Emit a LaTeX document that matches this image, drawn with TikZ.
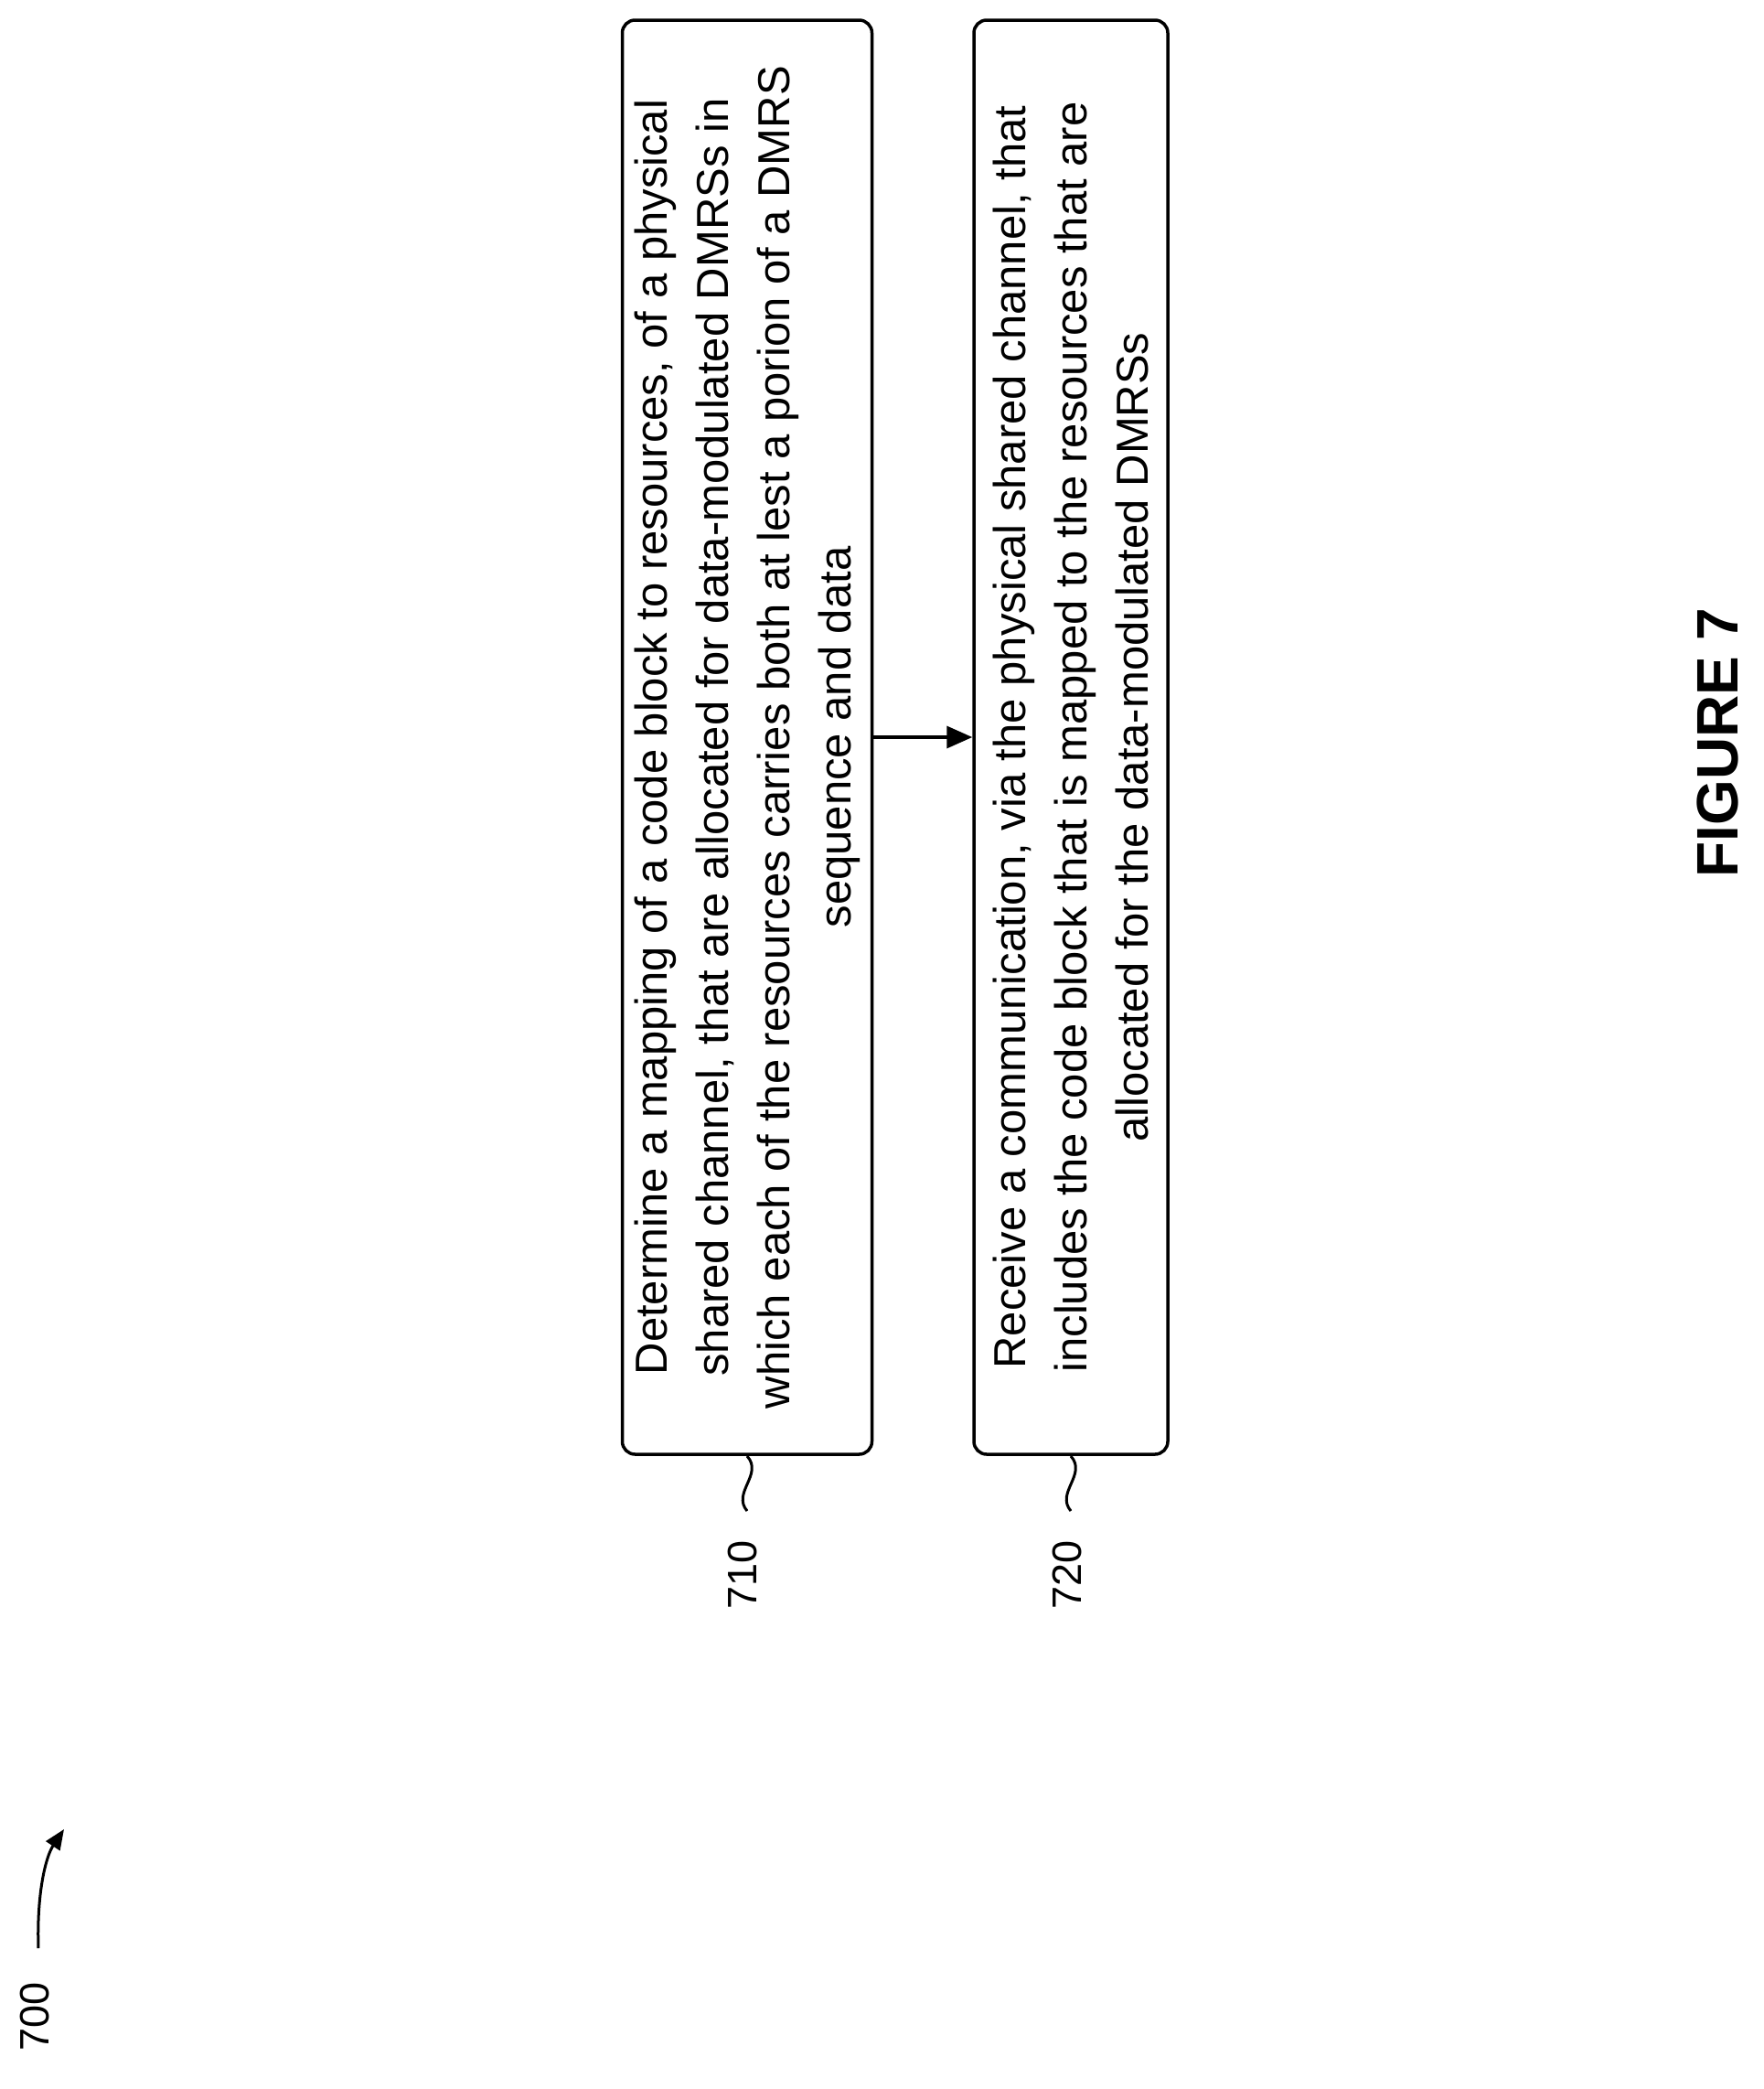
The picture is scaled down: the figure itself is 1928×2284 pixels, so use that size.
\documentclass[tikz,border=0pt]{standalone}
\usepackage{fontspec}
\setmainfont{Liberation Sans}
\usetikzlibrary{arrows.meta}
\begin{document}
\begin{tikzpicture}[x=1pt,y=-1pt,
  stepbox/.style={draw,line width=3.5pt,rounded corners=14pt,rotate=90,minimum width=1568pt,align=center,inner sep=0pt,font=\fontsize{49}{67}\selectfont},
  lbl/.style={rotate=90,font=\fontsize{45}{50}\selectfont},
  conn/.style={line width=3.5pt,-{Triangle[length=28pt,width=24pt]}}]
\useasboundingbox (0,0) rectangle (1928,2284);
\node[stepbox,minimum height=273pt] (b1) at (817,806) {Determine a mapping of a code block to resources,  of a physical\\shared channel, that are allocated for data-modulated DMRSs in\\which each of the resources carries both at lest a porion of a DMRS\\sequence and data};
\node[stepbox,minimum height=212pt] (b2) at (1171,806) {Receive a communication, via the physical shared channel, that\\includes the code block that is mapped to the resources that are\\allocated for the data-modulated DMRSs};
\draw[conn] (b1.south) -- (b2.north);
\coordinate (s1a) at (817,1592);
\coordinate (s1b) at (817,1652);
\draw[line width=3pt] (s1a) .. controls (835,1612) and (800,1632) .. (s1b);
\node[lbl] (l1) at (812,1722) {710};
\coordinate (s2a) at (1171,1592);
\coordinate (s2b) at (1171,1652);
\draw[line width=3pt] (s2a) .. controls (1189,1612) and (1154,1632) .. (s2b);
\node[lbl] (l2) at (1167,1722) {720};
\node[lbl] (l7) at (38,2205) {700};
\coordinate (a0) at (42,2130);
\coordinate (a1) at (70,2000);
\draw[line width=3pt,-{Triangle[length=22pt,width=18pt]}] (a0) .. controls (40,2070) and (50,2030) .. (a1);
\node[rotate=90,font=\bfseries\fontsize{64}{70}\selectfont] (fig) at (1878,812) {FIGURE 7};
\end{tikzpicture}
\end{document}
